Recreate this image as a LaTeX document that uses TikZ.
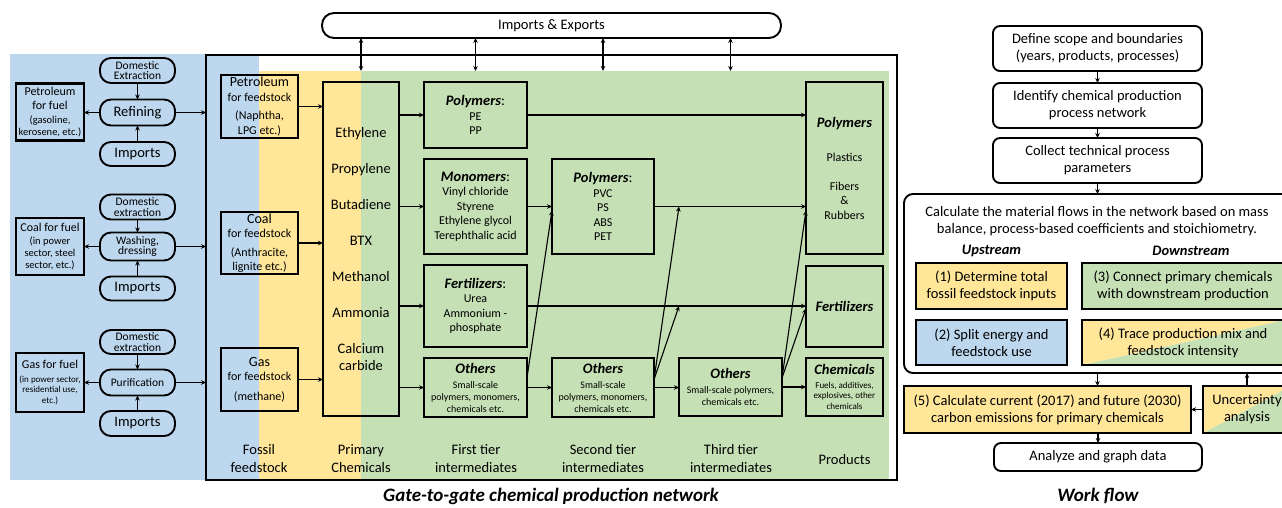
\documentclass[tikz,border=0pt]{standalone}
\usepackage{fontspec}
\setmainfont{Carlito}
\usetikzlibrary{arrows.meta,calc}
\definecolor{cblue}{HTML}{BDD7EE}
\definecolor{cyel}{HTML}{FFE699}
\definecolor{cgrn}{HTML}{C5E0B4}
\newcommand\szL{\fontsize{14.5}{17}\selectfont}
\newcommand\szC{\fontsize{14.5}{18}\selectfont}
\newcommand\szM{\fontsize{12}{14.5}\selectfont}
\newcommand\szD{\fontsize{11.5}{10.8}\selectfont}
\newcommand\szR{\fontsize{10.5}{12}\selectfont}
\newcommand\szS{\fontsize{10}{12}\selectfont}
\newcommand\szT{\fontsize{9}{10.5}\selectfont}
\newcommand\szH{\fontsize{19}{22}\selectfont}
\newcommand\bi[1]{\textbf{\textit{#1}}}
\tikzset{
  box/.style={draw, line width=2.7pt, inner sep=1pt, outer sep=0pt, align=center},
  pill/.style={draw, line width=1.9pt, rounded corners=11pt, inner sep=1pt, outer sep=0pt, align=center, minimum width=75},
  wbox/.style={draw, line width=1.9pt, rounded corners=7pt, align=center, inner sep=1pt, outer sep=0pt, font=\szL},
  arr/.style={-{Stealth[length=5pt,width=4.5pt]}, line width=1.1pt},
  darr/.style={{Stealth[length=5pt,width=4.5pt]}-{Stealth[length=5pt,width=4.5pt]}, line width=1.1pt},
  lab/.style={align=center, inner sep=0pt},
  split/.style={path picture={
    \fill[cgrn] (path picture bounding box.south west) -- (path picture bounding box.south east) -- (path picture bounding box.north east) -- cycle;
    \fill[cyel] (path picture bounding box.south west) -- (path picture bounding box.north west) -- (path picture bounding box.north east) -- cycle;}},
}
\begin{document}
\begin{tikzpicture}[x=1pt,y=-1pt]
\useasboundingbox (0,0) rectangle (1282,507);
\clip (0,0) rectangle (1282,507);
\fill[white] (0,0) rectangle (1282,507);
% backgrounds
\fill[cblue] (10,54) rectangle (259,480);
\fill[cyel] (259,71) rectangle (361,479);
\fill[cgrn] (361,71) rectangle (889,479);
\coordinate (gtop) at (361,71);
\node[draw, line width=2pt, minimum width=691, minimum height=425, inner sep=0pt, outer sep=0pt] (gate) at (551.5,267.5) {};

% Imports & Exports
\node[pill, font=\szL, minimum width=459, minimum height=25, rounded corners=12pt] (ie) at (551.5,25.5) {Imports \& Exports};

% left column
\node[pill, font=\szD, minimum height=25] (dom1) at (137.5,70.5) {Domestic\\Extraction};
\node[pill, font=\szL, minimum height=26] (ref) at (137.5,112.5) {Refining};
\node[pill, font=\szL, minimum height=24] (imp1) at (137.5,154) {Imports};
\node[box, font=\szR, minimum width=68, minimum height=57] (petfuel) at (50,112) {{\szM Petroleum}\\[2pt]{\szM for fuel}\\[2pt](gasoline,\\kerosene, etc.)};

\node[pill, font=\szD, minimum height=25] (dom2) at (137.5,207) {Domestic\\extraction};
\node[pill, font=\szD, minimum height=28] (wash) at (137.5,246.5) {Washing,\\dressing};
\node[pill, font=\szL, minimum height=24] (imp2) at (137.5,288.5) {Imports};
\node[box, font=\szR, minimum width=68, minimum height=57] (coalfuel) at (50,246.5) {{\szM Coal for fuel}\\[1pt](in power\\sector, steel\\sector, etc.)};

\node[pill, font=\szD, minimum height=24] (dom3) at (137.5,342) {Domestic\\extraction};
\node[pill, font=\fontsize{11.5}{13}\selectfont, minimum height=26] (pur) at (137.5,382.5) {Purification};
\node[pill, font=\szL, minimum height=25] (imp3) at (137.5,423.5) {Imports};
\node[box, font=\szT, minimum width=68, minimum height=59] (gasfuel) at (50,382.5) {{\szM Gas for fuel}\\[3pt](in power sector,\\residential use,\\etc.)};

\foreach \d/\p/\i/\f in {dom1/ref/imp1/petfuel, dom2/wash/imp2/coalfuel, dom3/pur/imp3/gasfuel}{
  \draw[arr] (\d) -- (\p);
  \draw[arr] (\i) -- (\p);
  \draw[arr] (\p.west) -- (\p.west -| \f.east);
  \draw[arr] (\p.east) -- (\p.east -| gate.west);
}

% fossil feedstock
\node[box, font=\szM, minimum width=77, minimum height=63] (petfs) at (259.5,106.5) {{\fontsize{14}{14.5}\selectfont Petroleum}\\for feedstock\\[4pt](Naphtha,\\LPG etc.)};
\node[box, font=\szM, minimum width=77, minimum height=62] (coalfs) at (259.5,243) {{\fontsize{14}{14.5}\selectfont Coal}\\for feedstock\\[4pt](Anthracite,\\lignite etc.)};
\node[box, font=\szM, minimum width=77, minimum height=63] (gasfs) at (259.5,379.5) {{\fontsize{14}{14.5}\selectfont Gas}\\for feedstock\\[5pt](methane)};

% primary chemicals
\node[box, font=\szL, minimum width=76, minimum height=334] (pc) at (361,249) {Ethylene\\[19pt]Propylene\\[19pt]Butadiene\\[19pt]BTX\\[19pt]Methanol\\[19pt]Ammonia\\[19pt]Calcium\\carbide};

\foreach \f in {petfs,coalfs,gasfs}{
  \draw[arr] (\f.east) -- (\f.east -| pc.west);
}

% first tier
\node[box, font=\szM, minimum width=103, minimum height=66] (t1poly) at (475.5,115) {{\szL\bi{Polymers}:}\\PE\\PP};
\node[box, font=\szM, minimum width=103, minimum height=95] (t1mono) at (475.5,206.5) {{\szL\bi{Monomers}:}\\Vinyl chloride\\Styrene\\Ethylene glycol\\Terephthalic acid};
\node[box, font=\szM, minimum width=103, minimum height=82] (t1fert) at (475.5,306) {{\szL\bi{Fertilizers}:}\\Urea\\Ammonium -\\phosphate};
\node[box, font=\szS, minimum width=103, minimum height=59] (t1oth) at (475.5,387.5) {{\szL\bi{Others}}\\[3pt]Small-scale\\polymers, monomers,\\chemicals etc.};

% second tier
\node[box, font=\szM, minimum width=102, minimum height=95] (t2poly) at (603,206.5) {{\szL\bi{Polymers}:}\\PVC\\PS\\ABS\\PET};
\node[box, font=\szS, minimum width=102, minimum height=59] (t2oth) at (603,387.5) {{\szL\bi{Others}}\\[3pt]Small-scale\\polymers, monomers,\\chemicals etc.};

% third tier
\node[box, font=\szS, minimum width=103, minimum height=58] (t3oth) at (730.5,387) {{\szL\bi{Others}}\\[3pt]Small-scale polymers,\\chemicals etc.};

% products
\node[box, font=\szM, minimum width=77, minimum height=172] (ppoly) at (844.5,168) {{\szL\bi{Polymers}}\\[19.5pt]Plastics\\[14.5pt]Fibers\\\&\\Rubbers};
\node[box, font=\szL, minimum width=77, minimum height=81] (pfert) at (844.5,306.5) {\bi{Fertilizers}};
\node[box, font=\szT, minimum width=77, minimum height=58] (pchem) at (844.5,387) {{\szL\bi{Chemicals}}\\[3pt]Fuels, additives,\\explosives, other\\chemicals};

% column labels
\node[lab, font=\szC] (lfos) at (259,459) {Fossil\\feedstock};
\node[lab, font=\szC] (lpri) at (361,459) {Primary\\Chemicals};
\node[lab, font=\szC] (lt1) at (476,459) {First tier\\intermediates};
\node[lab, font=\szC] (lt2) at (603,459) {Second tier\\intermediates};
\node[lab, font=\szC] (lt3) at (731,459) {Third tier\\intermediates};
\node[lab, font=\szC] (lprod) at (844.5,460) {Products};

% imports/exports arrows
\foreach \n in {pc,t1poly,t2poly,t3oth}{
  \draw[darr] (\n |- ie.south) -- (\n |- gtop);
}

% primary -> first tier
\foreach \n in {t1poly,t1mono,t1fert,t1oth}{
  \draw[arr] (pc.east |- \n.west) -- (\n.west);
}
% network flows
\draw[arr] (t1poly.east) -- (t1poly.east -| ppoly.west);
\draw[arr] (t1mono.east) -- (t1mono.east -| t2poly.west);
\draw[arr] (t2poly.east) -- (t2poly.east -| ppoly.west);
\draw[arr] (t1fert.east) -- (t1fert.east -| pfert.west);
\draw[arr] (t1oth.east) -- (t1oth.east -| t2oth.west);
\draw[arr] (t2oth.east) -- (t2oth.east -| t3oth.west);
\draw[arr] (t3oth.east) -- (t3oth.east -| pchem.west);
% diagonals
\draw[arr] ($(t1oth.east)+(0,-10)$) -- ($(t2poly.west)+(0,4)$);
\draw[arr] ($(t2oth.east)+(0,-8)$) -- (t3oth.west |- t2poly.east);
\draw[arr] ($(t2oth.east)+(0,-8)$) -- (t3oth.west |- t1fert.east);
\draw[arr] ($(t3oth.east)+(0,-9)$) -- ($(ppoly.west |- t2poly.east)+(0,4)$);
\draw[arr] ($(t3oth.east)+(0,-9)$) -- ($(pfert.west)+(0,2)$);

% titles
\node[font=\szH\bfseries\itshape, inner sep=0pt] (title1) at (551,496) {Gate-to-gate chemical production network};
\node[font=\szH\bfseries\itshape, inner sep=0pt] (title2) at (1098,496) {Work flow};

% workflow
\node[wbox, minimum width=209, minimum height=45] (wf1) at (1097.5,48.5) {Define scope and boundaries\\(years, products, processes)};
\node[wbox, minimum width=209, minimum height=45] (wf2) at (1097.5,105.5) {Identify chemical production\\process network};
\node[wbox, minimum width=209, minimum height=45] (wf3) at (1097.5,160.5) {Collect technical process\\parameters};
\node[wbox, rounded corners=9pt, minimum width=400, minimum height=179] (wfbig) at (1104,283.5) {};
\node[lab, font=\szL] (calc) at (1097,221) {Calculate the material flows in the network based on mass\\balance, process-based coefficients and stoichiometry.};
\node[lab, font=\szL\bfseries\itshape] (up) at (991.5,251) {Upstream};
\node[lab, font=\szL\bfseries\itshape] (down) at (1191,251) {Downstream};
\node[box, fill=cyel, font=\szL, minimum width=151, minimum height=46] (b1) at (991.5,286) {(1) Determine total\\fossil feedstock inputs};
\node[box, fill=cgrn, font=\szL, minimum width=202, minimum height=46] (b3) at (1183,286) {(3) Connect primary chemicals\\with downstream production};
\node[box, fill=cblue, font=\szL, minimum width=151, minimum height=45] (b2) at (991.5,342.5) {(2) Split energy and\\feedstock use};
\node[box, split, font=\szL, minimum width=202, minimum height=45] (b4) at (1183,342.5) {(4) Trace production mix and\\feedstock intensity};
\node[box, fill=cyel, font=\szL, minimum width=287, minimum height=47] (b5) at (1047.5,409.5) {(5) Calculate current (2017) and future (2030)\\carbon emissions for primary chemicals};
\node[box, split, font=\szL, minimum width=88, minimum height=47] (unc) at (1247,409.5) {Uncertainty\\analysis};
\node[wbox, minimum width=208, minimum height=28] (ana) at (1098,457) {Analyze and graph data};

\draw[arr] (wf1) -- (wf2);
\draw[arr] (wf2) -- (wf3);
\draw[arr] (wf3.south) -- (wf3.south |- wfbig.north);
\draw[arr] (wf3.south |- wfbig.south) -- (wf3.south |- b5.north);
\draw[arr] (ana.north |- b5.south) -- (ana.north);
\draw[arr] (unc.west) -- (b5.east);
\draw[arr] (unc.north) -- (unc.north |- wfbig.south);
\end{tikzpicture}
\end{document}
